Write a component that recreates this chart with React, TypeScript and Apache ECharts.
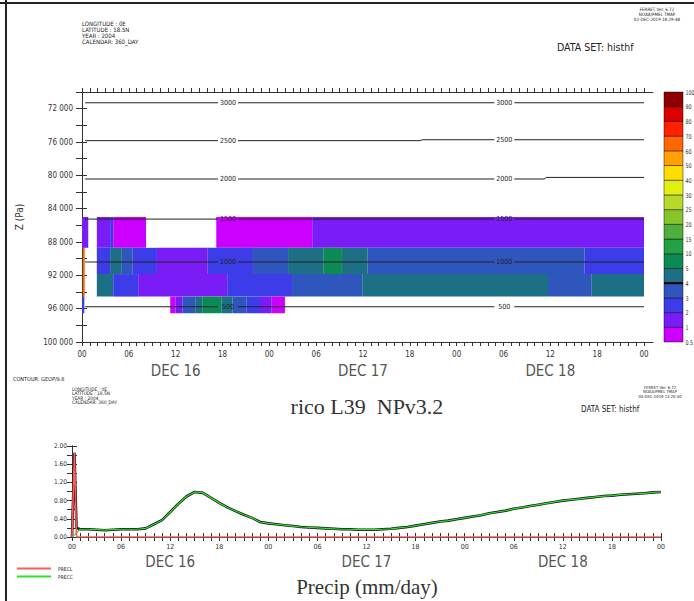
import { useEffect, useRef } from 'react';
import * as echarts from 'echarts';

const FONT = "'DejaVu Sans Condensed', 'DejaVu Sans', 'Liberation Sans', sans-serif";
const SERIF = "'Liberation Serif', 'DejaVu Serif', serif";

// ---- axis labels ----
const dayLabels = ['DEC 16', 'DEC 17', 'DEC 18'];
const hourTickValues = Array.from({ length: 73 }, (_, i) => i);
const hourLabelValues = [0, 6, 12, 18, 24, 30, 36, 42, 48, 54, 60, 66, 72];

// ---- colour key (bottom to top) ----
const keyColors = [
  '#cc00ff', '#7a1cf6', '#3c3ce8', '#2f56bd', '#1c6f84', '#0b8a55', '#22a244', '#4db03c',
  '#86c42a', '#b8d82c', '#e2f010', '#ffdd00', '#ffa000', '#ff6600', '#ff2200', '#dd0000', '#8e0000',
];
const keyLabels = ['0.5', '1', '2', '3', '4', '5', '10', '15', '20', '25', '30', '40', '50', '60', '70', '80', '90', '100'];

// ---- shaded field: layer edges (Pa) and runs [tStart(h), tEnd(h), colourIndex] ----
const layerEdgesPa = [85000, 88700, 91850, 94550, 96550];
const layer1Runs = [
  [0, 0.8, 1], [1.9, 3.6, 1], [3.6, 4.0, 2], [4.0, 8.2, 0], [17.2, 29.5, 0], [29.5, 72, 1],
];
const layer2Runs = [
  [0.1, 0.35, 13], [1.9, 3.6, 2], [3.6, 5.1, 4], [5.1, 6.5, 3], [6.5, 9.6, 2], [9.6, 16.1, 1],
  [16.1, 21.9, 2], [21.9, 26.4, 3], [26.4, 30.9, 4], [30.9, 33.3, 5], [33.3, 36.6, 4],
  [36.6, 64.4, 3], [64.4, 72, 2],
];
const layer3Runs = [
  [0.1, 0.35, 13], [1.9, 4.0, 4], [4.0, 7.2, 2], [7.2, 18.6, 1], [18.6, 26.9, 2], [26.9, 35.9, 3],
  [35.9, 59.7, 4], [59.7, 65.3, 3], [65.3, 72, 4],
];
const layer4Runs = [
  [0.0, 0.3, 2], [11.3, 12.0, 0], [12.0, 12.9, 1], [12.9, 14.5, 3], [14.5, 15.4, 4], [15.4, 17.9, 5],
  [17.9, 19.3, 4], [19.3, 21.1, 3], [21.1, 22.8, 2], [22.8, 24.3, 1], [24.3, 26.0, 0],
];
const layerRuns = [layer1Runs, layer2Runs, layer3Runs, layer4Runs];

// ---- contour lines of height (m): vertices [t(h), p(Pa)] ----
const contourLevels = [3000, 2500, 2000, 1500, 1000, 500];
const contourPaths = [
  [[0.4, 71290], [72, 71290]],
  [[0.4, 75840], [43.3, 75840], [43.6, 75730], [72, 75730]],
  [[0.4, 80440], [59.2, 80440], [59.5, 80250], [72, 80250]],
  [[0.4, 85250], [72, 85250]],
  [[0.4, 90400], [72, 90400]],
  [[0.4, 95770], [72, 95770]],
];
const contourLabelTimes = [18.7, 54.1];

// ---- precipitation (mm/day) ----
const preccHourly = [
  0.0, 0.17, 0.17, 0.16, 0.15, 0.16, 0.17, 0.17, 0.17, 0.19, 0.28, 0.37, 0.55, 0.73, 0.89, 0.99,
  0.97, 0.86, 0.75, 0.65, 0.57, 0.49, 0.42, 0.33, 0.30, 0.28, 0.26, 0.24, 0.22, 0.21, 0.20, 0.19,
  0.18, 0.17, 0.17, 0.16, 0.16, 0.16, 0.17, 0.18, 0.20, 0.22, 0.25, 0.28, 0.31, 0.34, 0.36, 0.39,
  0.42, 0.45, 0.48, 0.52, 0.55, 0.58, 0.62, 0.65, 0.68, 0.71, 0.74, 0.77, 0.80, 0.82, 0.84, 0.86,
  0.88, 0.90, 0.91, 0.93, 0.94, 0.95, 0.96, 0.98, 0.99,
];
const preclPoints = [[0, 0], [0.3, 1.85], [0.55, 0], [72, 0]];
const prectStart = [[0, 0], [0.3, 1.85], [0.55, 0.2]];

const pad2 = (n: number) => (n < 10 ? '0' : '') + n;

function clipSegments(a: number[], b: number[], gaps: number[], half: number) {
  let segs = [[a, b]];
  for (const g of gaps) {
    const next: number[][][] = [];
    for (const [p, q] of segs) {
      const x0 = p[0];
      const x1 = q[0];
      const lerp = (x: number) => [x, p[1] + (q[1] - p[1]) * ((x - x0) / (x1 - x0 || 1))];
      if (x1 <= g - half || x0 >= g + half) {
        next.push([p, q]);
        continue;
      }
      if (x0 < g - half) next.push([p, lerp(g - half)]);
      if (x1 > g + half) next.push([lerp(g + half), q]);
    }
    segs = next;
  }
  return segs;
}

function pathValueAt(path: number[][], t: number) {
  for (let k = 0; k < path.length - 1; k++) {
    const [t0, p0] = path[k];
    const [t1, p1] = path[k + 1];
    if (t >= t0 && t <= t1) return p0 + (p1 - p0) * ((t - t0) / (t1 - t0 || 1));
  }
  return path[path.length - 1][1];
}

function timeAxisLabel(fontSize: number, line1: number, line2: number) {
  return {
    customValues: hourLabelValues,
    formatter: (v: number) => {
      const h = Math.round(v) % 24;
      const s = pad2(h);
      if (h === 12) return `{h|${s}}\n{d|${dayLabels[Math.floor(v / 24)]}}`;
      return `{h|${s}}`;
    },
    rich: {
      h: { fontSize, lineHeight: line1, color: '#333', fontFamily: FONT },
      d: { fontSize: 15, lineHeight: line2, color: '#555', fontFamily: FONT },
    },
  };
}

function buildOption() {
  const cells: number[][] = [];
  layerRuns.forEach((runs, li) => {
    runs.forEach(([t0, t1, c]) => cells.push([t0, t1, layerEdgesPa[li], layerEdgesPa[li + 1], c]));
  });

  const axisLine = { show: true, lineStyle: { color: '#333', width: 1 } };
  const tickStyle = { color: '#333', width: 1 };
  const preccPoints = preccHourly.map((v, i) => [i, v]);
  const prectPoints = [...prectStart, ...preccHourly.slice(1).map((v, i) => [i + 1, v])];

  const headerUpper = ['LONGITUDE : 0E', 'LATITUDE : 18.5N', 'YEAR : 2004', 'CALENDAR: 360_DAY'];
  const stampUpper = ['FERRET Ver. 6.72', 'NOAA/PMEL TMAP', '02-DEC-2019 18:29:48'];
  const stampLower = ['FERRET Ver. 6.72', 'NOAA/PMEL TMAP', '04-DEC-2019 13:20:40'];

  const txt = (text: string, x: number, y: number, fontSize: number, extra: any = {}) => ({
    type: 'text',
    style: {
      text, x, y, fontSize, fontFamily: FONT, fill: '#222',
      textAlign: 'left', textVerticalAlign: 'middle', ...extra,
    },
  });

  const graphics: any[] = [
    { type: 'line', shape: { x1: 6, y1: 0, x2: 6, y2: 601 }, style: { stroke: '#222', lineWidth: 2 } },
    { type: 'line', shape: { x1: 0, y1: 3, x2: 694, y2: 3 }, style: { stroke: '#222', lineWidth: 2 } },
    ...headerUpper.map((s, i) => txt(s, 82, 23 + i * 6, 6)),
    ...stampUpper.map((s, i) => txt(s, 657, 9 + i * 5, 4.5, { textAlign: 'center' })),
    txt('DATA SET: histhf', 557, 47, 10.5),
    txt('CONTOUR: GEOP/9.8', 13, 379, 5.5),
    ...headerUpper.map((s, i) => txt(s, 72, 389 + i * 4.5, 4.8)),
    ...stampLower.map((s, i) => txt(s, 660, 387 + i * 4.5, 4.2, { textAlign: 'center' })),
    txt('DATA SET: histhf', 581, 409, 8),
    txt('rico L39  NPv3.2', 367, 406, 22, { fontFamily: SERIF, textAlign: 'center', fill: '#333' }),
    txt('Precip (mm/day)', 367, 587, 21, { fontFamily: SERIF, textAlign: 'center', fill: '#333' }),
  ];

  return {
    animation: false,
    backgroundColor: '#fff',
    graphic: { elements: graphics },
    legend: {
      left: 12,
      top: 561,
      orient: 'vertical',
      icon: 'rect',
      itemWidth: 34,
      itemHeight: 2,
      itemGap: 3,
      data: ['PRECL', 'PRECC'],
      textStyle: { fontSize: 5, fontFamily: FONT, color: '#222', padding: [0, 0, 0, 2] },
    },
    grid: [
      { left: 82, top: 92, width: 571, height: 250 },
      { left: 72, top: 446, width: 589, height: 91 },
      { left: 664, top: 92, width: 19, height: 250 },
    ],
    xAxis: [
      {
        gridIndex: 0, type: 'value', min: 0, max: 73.15, position: 'bottom',
        axisLine, splitLine: { show: false },
        axisTick: { show: true, customValues: hourTickValues, length: 4, lineStyle: tickStyle },
        axisLabel: { ...timeAxisLabel(8, 9, 24), margin: 8 },
      },
      {
        gridIndex: 0, type: 'value', min: 0, max: 73.15, position: 'top',
        axisLine, splitLine: { show: false }, axisLabel: { show: false },
        axisTick: { show: true, customValues: hourTickValues, length: 4, lineStyle: tickStyle },
      },
      {
        gridIndex: 1, type: 'value', min: 0, max: 72, position: 'bottom',
        axisLine, splitLine: { show: false },
        axisTick: { show: true, customValues: hourTickValues, length: 4, lineStyle: tickStyle },
        axisLabel: { ...timeAxisLabel(7, 8, 22), margin: 6 },
      },
      {
        gridIndex: 1, type: 'value', min: 0, max: 72, position: 'top',
        axisLine, splitLine: { show: false }, axisLabel: { show: false },
        axisTick: { show: true, customValues: hourTickValues, length: 4, lineStyle: tickStyle },
      },
      { gridIndex: 2, type: 'value', min: 0, max: 1, show: false },
    ],
    yAxis: [
      {
        gridIndex: 0, type: 'value', inverse: true, min: 70000, max: 100000, interval: 2000,
        position: 'left', axisLine, splitLine: { show: false },
        axisTick: { show: true, length: 6, lineStyle: tickStyle },
        axisLabel: {
          fontSize: 8, fontFamily: FONT, color: '#333', margin: 9,
          formatter: (v: number) => (v < 72000 || (v - 72000) % 4000 !== 0 ? '' : `${v / 1000} 000`),
        },
        name: 'Z (Pa)', nameLocation: 'middle', nameGap: 58, nameRotate: 90,
        nameTextStyle: { fontSize: 10, fontFamily: FONT, color: '#333' },
      },
      {
        gridIndex: 0, type: 'value', inverse: true, min: 70000, max: 100000, interval: 2000,
        position: 'right', axisLine, splitLine: { show: false }, axisLabel: { show: false },
        axisTick: { show: true, length: 5, lineStyle: tickStyle },
      },
      {
        gridIndex: 1, type: 'value', min: 0, max: 2, interval: 0.2, position: 'left',
        axisLine, splitLine: { show: false },
        axisTick: { show: true, length: 5, lineStyle: tickStyle },
        axisLabel: {
          fontSize: 6.5, fontFamily: FONT, color: '#333', margin: 5,
          formatter: (v: number) => (Math.round(v * 10) % 4 === 0 ? v.toFixed(2) : ''),
        },
      },
      {
        gridIndex: 1, type: 'value', min: 0, max: 2, interval: 0.2, position: 'right',
        axisLine, splitLine: { show: false }, axisLabel: { show: false },
        axisTick: { show: true, length: 5, lineStyle: tickStyle },
      },
      {
        gridIndex: 2, type: 'value', min: 0, max: 17, interval: 1, position: 'right',
        axisLine: { show: false }, axisTick: { show: false }, splitLine: { show: false },
        axisLabel: { show: false },
      },
    ],
    series: [
      {
        type: 'custom', name: 'field', xAxisIndex: 0, yAxisIndex: 0, z: 2,
        data: cells,
        renderItem: (params: any, api: any) => {
          const a = api.coord([api.value(0), api.value(2)]);
          const b = api.coord([api.value(1), api.value(3)]);
          return {
            type: 'rect',
            shape: {
              x: Math.min(a[0], b[0]), y: Math.min(a[1], b[1]),
              width: Math.abs(b[0] - a[0]), height: Math.abs(b[1] - a[1]),
            },
            style: { fill: keyColors[api.value(4)] },
          };
        },
      },
      {
        type: 'custom', name: 'contours', xAxisIndex: 0, yAxisIndex: 0, z: 5,
        data: contourLevels.map((_, i) => [i]),
        renderItem: (params: any, api: any) => {
          const i = api.value(0);
          const path = contourPaths[i];
          const pts = path.map((p) => api.coord(p));
          const gapX = contourLabelTimes.map((t) => api.coord([t, 80000])[0]);
          const children: any[] = [];
          for (let k = 0; k < pts.length - 1; k++) {
            clipSegments(pts[k], pts[k + 1], gapX, 10).forEach(([p, q]) =>
              children.push({
                type: 'line',
                shape: { x1: p[0], y1: p[1], x2: q[0], y2: q[1] },
                style: { stroke: '#222', lineWidth: 1 },
              }),
            );
          }
          contourLabelTimes.forEach((t) => {
            const c = api.coord([t, pathValueAt(path, t)]);
            children.push({
              type: 'text',
              style: {
                text: String(contourLevels[i]), x: c[0], y: c[1], fontSize: 7, fontFamily: FONT,
                fill: '#222', textAlign: 'center', textVerticalAlign: 'middle',
              },
            });
          });
          return { type: 'group', children };
        },
      },
      {
        type: 'custom', name: 'key', xAxisIndex: 4, yAxisIndex: 4, z: 2,
        data: keyLabels.map((_, i) => [i]),
        renderItem: (params: any, api: any) => {
          const i = api.value(0);
          const cs = params.coordSys;
          const x0 = cs.x;
          const x1 = cs.x + cs.width;
          const yTop = api.coord([0, i + 1])[1];
          const yBot = api.coord([0, i])[1];
          const children: any[] = [];
          if (i < keyColors.length) {
            children.push({
              type: 'rect',
              shape: { x: x0, y: yTop, width: x1 - x0, height: yBot - yTop },
              style: { fill: keyColors[i], stroke: 'rgba(0,0,0,0.45)', lineWidth: 1 },
            });
          }
          if (i === 4) {
            children.push({
              type: 'line',
              shape: { x1: x0, y1: yBot, x2: x1, y2: yBot },
              style: { stroke: '#000', lineWidth: 2 },
            });
          }
          children.push({
            type: 'text',
            x: x1 + 2.5,
            y: yBot,
            scaleX: 0.82,
            style: {
              text: keyLabels[i], x: 0, y: 0, fontSize: 6.5, fontFamily: FONT,
              fill: '#333', textAlign: 'left', textVerticalAlign: 'middle',
            },
          });
          return { type: 'group', children };
        },
      },
      {
        type: 'line', name: 'PRECT', xAxisIndex: 2, yAxisIndex: 2, z: 3,
        data: prectPoints, showSymbol: false, symbol: 'none',
        lineStyle: { color: '#111', width: 2.6 }, itemStyle: { color: '#111' },
      },
      {
        type: 'line', name: 'PRECC', xAxisIndex: 2, yAxisIndex: 2, z: 4,
        data: preccPoints, showSymbol: false, symbol: 'none',
        lineStyle: { color: '#2fe02f', width: 1.2 }, itemStyle: { color: '#2fe02f' },
      },
      {
        type: 'line', name: 'PRECL', xAxisIndex: 2, yAxisIndex: 2, z: 4,
        data: preclPoints, showSymbol: false, symbol: 'none',
        lineStyle: { color: '#ff5a5a', width: 1.6 }, itemStyle: { color: '#ff5a5a' },
      },
    ],
  };
}

export default function App() {
  const ref = useRef<HTMLDivElement>(null);
  useEffect(() => {
    document.body.style.margin = '0';
    const chart = echarts.init(ref.current!, null, { renderer: 'svg' });
    chart.setOption(buildOption() as any);
    return () => chart.dispose();
  }, []);
  return <div ref={ref} style={{ width: 694, height: 601, background: '#fff' }} />;
}
